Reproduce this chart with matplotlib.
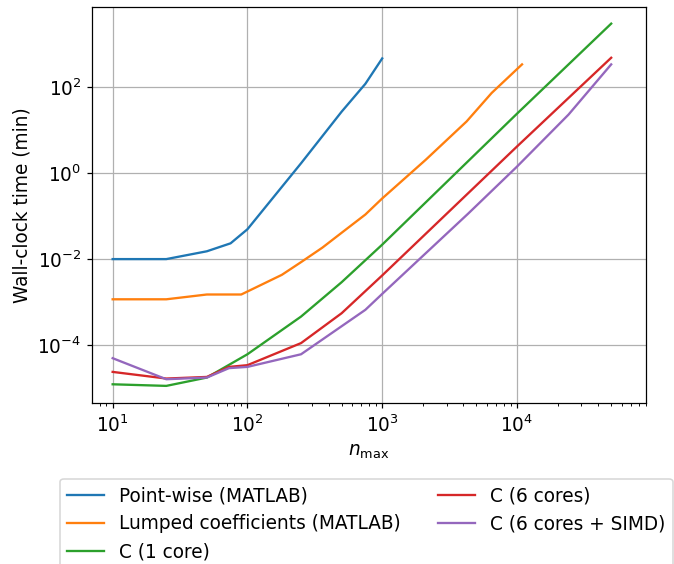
import numpy as np
import matplotlib
matplotlib.use("Agg")
import matplotlib.pyplot as plt
from matplotlib.ticker import NullLocator

# ── Data ──────────────────────────────────────────────────
pw_n = [10, 25, 50, 75, 100, 250, 500, 750, 1000]
pw_t = [0.01, 0.01, 0.0152, 0.0233, 0.0495, 1.7, 27, 120, 468]

lump_n = [10, 25, 50, 90, 180, 250, 360, 500, 750, 1000, 2100, 4230, 6490, 10900]
lump_t = [0.00116, 0.00116, 0.0015, 0.0015, 0.0043, 0.0085, 0.0185, 0.041,
          0.109, 0.258, 2.04, 16, 73.6, 340]

c1_n = [10, 25, 50, 100, 250, 500, 1000, 10000, 50000]
c1_t = [1.22e-5, 1.12e-5, 1.75e-5, 6.1e-5, 4.6e-4, 2.9e-3, 0.0217, 24.2, 3020]

c6_n = [10, 25, 50, 73, 100, 250, 500, 1000, 10000, 50000]
c6_t = [2.37e-5, 1.66e-5, 1.81e-5, 3.1e-5, 3.4e-5, 1.11e-4, 5.5e-4, 4.17e-3, 4.17, 485]

simd_n = [10, 25, 50, 73, 100, 250, 750, 1000, 4350, 10000, 24100, 50000]
simd_t = [4.94e-5, 1.6e-5, 1.75e-5, 2.9e-5, 3.1e-5, 6.1e-5, 6.6e-4, 1.55e-3,
          0.115, 1.42, 23, 340]

labels = ["Point-wise (MATLAB)", "Lumped coefficients (MATLAB)", "C (1 core)",
          "C (6 cores)", "C (6 cores + SIMD)"]

# ── Plot ──────────────────────────────────────────────────
DPI = 111
plt.rcParams["font.size"] = 12

fig = plt.figure(figsize=(674 / DPI, 564 / DPI), dpi=DPI)
ax = fig.add_axes([92.3 / 674, 1 - 403.3 / 564, 553.4 / 674, 396.6 / 564])

series = [(pw_n, pw_t), (lump_n, lump_t), (c1_n, c1_t), (c6_n, c6_t), (simd_n, simd_t)]
for (n, t), lab in zip(series, labels):
    ax.plot(n, t, label=lab, linewidth=1.5)

ax.set_xscale("log")
ax.set_yscale("log")
ax.set_xlim(10 ** 0.849, 10 ** 4.955)
ax.set_ylim(10 ** -5.356, 10 ** 3.874)
ax.set_xlabel(r"$n_{\mathrm{max}}$")
ax.set_ylabel("Wall-clock time (min)")
ax.grid(True, which="major")
ax.set_yticks([1e-4, 1e-2, 1e0, 1e2])
ax.yaxis.set_minor_locator(NullLocator())

ax.legend(loc="upper left", bbox_to_anchor=(-0.0584, -0.190), ncol=2,
          borderaxespad=0)

fig.savefig("out.png", dpi=DPI)
